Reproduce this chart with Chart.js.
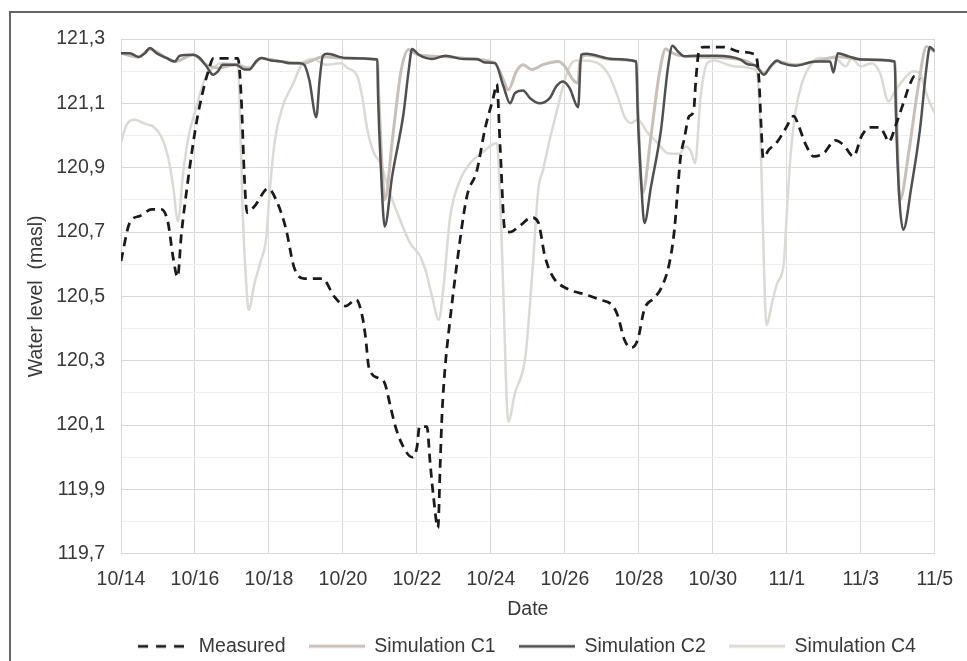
<!DOCTYPE html>
<html>
<head>
<meta charset="utf-8">
<title>Water level</title>
<script src="https://cdn.jsdelivr.net/npm/chart.js@4.4.1/dist/chart.umd.min.js"></script>
<style>
  html, body { margin: 0; padding: 0; background: #fff; overflow: hidden; }
  #frame { position: absolute; left: 9px; top: 11px; width: 1000px; height: 700px;
           border-left: 2px solid #666; border-top: 2px solid #666; }
  #chart { position: absolute; left: 0; top: 0; }
</style>
</head>
<body>
<div id="frame"></div>
<canvas id="chart" width="967" height="666"></canvas>
<script>
// x values are days counted from 10/14
const dateLabels = ['10/14', '10/16', '10/18', '10/20', '10/22', '10/24', '10/26', '10/28', '10/30', '11/1', '11/3', '11/5'];
const seriesNames = ['Measured', 'Simulation C1', 'Simulation C2', 'Simulation C4'];

const measuredDays = [0, 0.24, 0.51, 0.83, 1.09, 1.27, 1.41, 1.53, 1.63, 1.81, 2.04, 2.22, 2.40, 2.49, 3.16, 3.25, 3.34, 3.41, 3.61, 3.98,
  4.23, 4.46, 4.68, 4.95, 5.45, 5.76, 6.07, 6.36, 6.52, 6.61, 6.70, 6.97, 7.13, 7.29, 7.42, 7.60, 7.87, 8.00, 8.07, 8.27,
  8.36, 8.45, 8.57, 8.63, 8.68, 8.77, 8.86, 9.08, 9.35, 9.62, 9.84, 10.07, 10.16, 10.25, 10.38, 10.52, 10.79, 11.10, 11.28, 11.46,
  11.68, 12.04, 12.58, 12.94, 13.30, 13.43, 13.61, 13.79, 13.97, 14.15, 14.42, 14.60, 14.82, 14.96, 15.05, 15.13, 15.22, 15.36, 15.48, 15.54,
  15.63, 15.76, 16.30, 16.75, 17.16, 17.25, 17.31, 17.36, 17.51, 17.74, 17.96, 18.19, 18.32, 18.50, 18.73, 19.00, 19.31, 19.54, 19.80, 20.03,
  20.25, 20.52, 20.66, 20.75, 20.97, 21.15, 21.33, 21.46, 21.60];
const measuredLevel = [120.61, 120.73, 120.75, 120.77, 120.77, 120.73, 120.62, 120.56, 120.69, 120.86, 121.04, 121.14, 121.215, 121.24, 121.24, 121.12, 120.86, 120.76, 120.78, 120.835,
  120.79, 120.71, 120.59, 120.555, 120.555, 120.50, 120.47, 120.49, 120.44, 120.375, 120.28, 120.245, 120.23, 120.155, 120.095, 120.04, 120.00, 120.03, 120.095, 120.095,
  119.98, 119.875, 119.78, 119.98, 120.135, 120.29, 120.39, 120.60, 120.81, 120.89, 121.02, 121.12, 121.16, 120.965, 120.705, 120.70, 120.72, 120.745, 120.73, 120.625,
  120.56, 120.525, 120.505, 120.49, 120.47, 120.44, 120.365, 120.34, 120.365, 120.46, 120.495, 120.525, 120.60, 120.705, 120.83, 120.935, 120.985, 121.06, 121.075, 121.17,
  121.265, 121.275, 121.275, 121.26, 121.25, 121.17, 121.02, 120.93, 120.955, 120.98, 121.02, 121.06, 121.03, 120.975, 120.935, 120.945, 120.985, 120.97, 120.935, 121.00,
  121.025, 121.025, 121.00, 120.98, 121.04, 121.10, 121.16, 121.185, 121.175];

const c1Days = [0, 0.47, 0.78, 1.23, 1.45, 1.95, 2.31, 2.62, 3.11, 3.47, 3.79, 4.33, 4.95, 5.46, 6.07, 6.93, 6.97, 7.05, 7.13, 7.35,
  7.57, 7.78, 7.87, 8.05, 8.77, 9.62, 10.11, 10.34, 10.47, 10.69, 10.87, 11.10, 11.41, 11.82, 12.0, 12.22, 12.36, 12.40, 12.58, 13.30,
  13.93, 13.97, 14.10, 14.33, 14.55, 14.73, 14.82, 15.05, 15.50, 16.75, 17.16, 17.38, 17.74, 18.23, 18.77, 19.38, 20.03, 20.92, 20.96, 21.06,
  21.30, 21.55, 21.78, 21.87, 22.0];
const c1Level = [121.256, 121.244, 121.268, 121.241, 121.23, 121.25, 121.22, 121.21, 121.22, 121.21, 121.24, 121.23, 121.225, 121.245, 121.24, 121.236, 121.12, 120.92, 120.80, 121.0,
  121.2, 121.267, 121.26, 121.25, 121.245, 121.236, 121.225, 121.173, 121.142, 121.2, 121.22, 121.205, 121.22, 121.23, 121.215, 121.173, 121.163, 121.225, 121.25, 121.236,
  121.23, 121.10, 120.82, 121.0, 121.19, 121.27, 121.262, 121.25, 121.245, 121.236, 121.217, 121.195, 121.23, 121.22, 121.23, 121.245, 121.236, 121.23, 121.10, 120.80,
  120.95, 121.15, 121.277, 121.27, 121.26];

const c2Days = [0, 0.24, 0.47, 0.65, 0.78, 0.96, 1.23, 1.45, 1.59, 1.95, 2.13, 2.31, 2.49, 2.62, 2.75, 3.11, 3.34, 3.47, 3.65, 3.79,
  4.06, 4.33, 4.55, 4.82, 4.95, 5.09, 5.28, 5.37, 5.46, 5.58, 6.07, 6.93, 6.95, 7.02, 7.13, 7.33, 7.64, 7.78, 7.87, 8.05,
  8.41, 8.77, 9.26, 9.62, 9.84, 10.11, 10.34, 10.52, 10.65, 10.87, 11.06, 11.32, 11.59, 11.77, 11.95, 12.13, 12.36, 12.44, 12.58, 13.30,
  13.93, 13.97, 14.06, 14.15, 14.33, 14.60, 14.78, 14.91, 15.05, 15.23, 15.50, 16.12, 16.75, 16.93, 17.16, 17.38, 17.56, 17.74, 17.87, 18.23,
  18.77, 19.17, 19.26, 19.38, 19.67, 20.03, 20.92, 20.95, 21.04, 21.15, 21.37, 21.60, 21.78, 21.87, 22.0];
const c2Level = [121.256, 121.256, 121.244, 121.256, 121.272, 121.256, 121.241, 121.23, 121.248, 121.251, 121.241, 121.215, 121.189, 121.199, 121.22, 121.22, 121.205, 121.205, 121.23, 121.241,
  121.233, 121.23, 121.225, 121.225, 121.22, 121.173, 121.057, 121.173, 121.248, 121.254, 121.241, 121.236, 121.121, 120.914, 120.717, 120.873, 121.07, 121.205, 121.269, 121.251,
  121.238, 121.248, 121.238, 121.238, 121.227, 121.225, 121.153, 121.10, 121.132, 121.14, 121.116, 121.10, 121.116, 121.153, 121.168, 121.147, 121.088, 121.251, 121.254, 121.238,
  121.23, 121.07, 120.862, 120.728, 120.842, 121.018, 121.205, 121.279, 121.262, 121.246, 121.248, 121.248, 121.236, 121.222, 121.217, 121.189, 121.215, 121.233, 121.225, 121.217,
  121.23, 121.23, 121.196, 121.256, 121.246, 121.236, 121.23, 121.07, 120.81, 120.707, 120.842, 121.018, 121.215, 121.275, 121.262];

const c4Days = [0, 0.15, 0.38, 0.60, 0.74, 0.87, 1.09, 1.27, 1.41, 1.54, 1.68, 1.81, 2.04, 2.26, 2.53, 2.71, 3.16, 3.23, 3.29, 3.38,
  3.45, 3.61, 3.79, 3.92, 4.01, 4.15, 4.37, 4.64, 4.91, 5.18, 5.54, 5.94, 6.12, 6.39, 6.52, 6.66, 6.84, 7.02, 7.24, 7.51,
  7.82, 8.09, 8.23, 8.41, 8.59, 8.72, 8.90, 9.17, 9.44, 9.80, 10.16, 10.25, 10.34, 10.47, 10.65, 10.92, 11.01, 11.14, 11.28, 11.41,
  11.59, 11.77, 11.95, 12.13, 12.31, 12.76, 13.16, 13.43, 13.61, 13.79, 13.97, 14.24, 14.51, 14.78, 15.09, 15.27, 15.41, 15.52, 15.67, 15.85,
  16.04, 16.57, 17.16, 17.25, 17.31, 17.38, 17.45, 17.60, 17.74, 17.92, 18.0, 18.10, 18.23, 18.41, 18.68, 18.86, 19.3, 19.6, 19.75, 20.0,
  20.3, 20.52, 20.75, 20.92, 21.15, 21.42, 21.6, 21.73, 21.87, 22.0];
const c4Level = [120.977, 121.033, 121.049, 121.039, 121.033, 121.028, 120.997, 120.935, 120.842, 120.733, 120.883, 120.987, 121.09, 121.173, 121.215, 121.225, 121.22, 121.018, 120.759, 120.551,
  120.458, 120.541, 120.614, 120.676, 120.81, 120.977, 121.09, 121.158, 121.225, 121.238, 121.22, 121.225, 121.21, 121.184, 121.121, 121.018, 120.945, 120.914, 120.831, 120.748,
  120.665, 120.624, 120.582, 120.50, 120.427, 120.531, 120.748, 120.862, 120.914, 120.95, 120.977, 120.81, 120.50, 120.11, 120.199, 120.302, 120.406, 120.603, 120.831, 120.893,
  120.987, 121.07, 121.153, 121.215, 121.233, 121.23, 121.194, 121.121, 121.059, 121.039, 121.049, 121.008, 120.977, 120.945, 120.943, 120.966, 120.95, 120.914, 121.121, 121.225,
  121.233, 121.215, 121.205, 121.121, 120.914, 120.603, 120.411, 120.479, 120.541, 120.603, 120.759, 120.935, 121.07, 121.163, 121.225, 121.241, 121.24, 121.215, 121.24, 121.215,
  121.225, 121.194, 121.106, 121.137, 121.173, 121.20, 121.194, 121.147, 121.10, 121.07];

const yMin = 119.7;
const yMax = 121.3;

const pts = (days, level) => days.map((d, i) => ({ x: d, y: level[i] }));

const font = { family: '"Liberation Sans", Arial, sans-serif', size: 19.5 };
const textColor = '#383838';
const isMajor = v => Math.round(v * 10) % 2 === 1;

// small picture of the line, used as the legend symbol
function legendLine(color, width, dash, length) {
  const c = document.createElement('canvas');
  c.width = length;
  c.height = 6;
  const g = c.getContext('2d');
  g.strokeStyle = color;
  g.lineWidth = width;
  g.setLineDash(dash);
  g.beginPath();
  g.moveTo(0, 3);
  g.lineTo(length, 3);
  g.stroke();
  return c;
}

// Excel centres the legend under the plot area rather than the whole canvas
const legendShift = {
  id: 'legendShift',
  beforeDraw(chart) {
    chart.legend.left = 82;
    chart.legend.right = chart.width;
  }
};

window.onload = () => {
  const ctx = document.getElementById('chart').getContext('2d');
  const line = { pointRadius: 0, fill: false, cubicInterpolationMode: 'monotone', borderJoinStyle: 'round' };
  new Chart(ctx, {
    type: 'line',
    data: {
      datasets: [
        { ...line, label: seriesNames[0], data: pts(measuredDays, measuredLevel), borderColor: '#1a1a1a', borderWidth: 2.75, borderDash: [9, 6], order: 0,
          pointStyle: legendLine('#1a1a1a', 2.75, [10, 8], 46) },
        { ...line, label: seriesNames[1], data: pts(c1Days, c1Level), borderColor: '#c8c0b8', borderWidth: 3, order: 2,
          pointStyle: legendLine('#c8c0b8', 3, [], 56) },
        { ...line, label: seriesNames[2], data: pts(c2Days, c2Level), borderColor: '#505050', borderWidth: 2.5, order: 1,
          pointStyle: legendLine('#505050', 2.75, [], 56) },
        { ...line, label: seriesNames[3], data: pts(c4Days, c4Level), borderColor: '#dcdad5', borderWidth: 2.5, order: 3,
          pointStyle: legendLine('#dcdad5', 3, [], 56) }
      ]
    },
    options: {
      responsive: false,
      animation: false,
      events: [],
      layout: { padding: { top: 39, right: 29, left: 0, bottom: 0 } },
      plugins: {
        tooltip: { enabled: false },
        legend: {
          position: 'bottom',
          labels: {
            font, color: textColor, padding: 23,
            usePointStyle: true, pointStyleWidth: 56,
            sort: (a, b) => a.datasetIndex - b.datasetIndex
          }
        }
      },
      scales: {
        x: {
          type: 'linear', min: 0, max: 22,
          afterBuildTicks: s => { s.ticks = dateLabels.map((_, i) => ({ value: i * 2 })); },
          afterFit: s => { s.height = 59.8; },
          ticks: { callback: v => dateLabels[Math.round(v / 2)], font, color: textColor, padding: 14, maxRotation: 0, autoSkip: false },
          grid: { color: '#d9d9d9', drawTicks: false },
          border: { color: '#d9d9d9' },
          title: { display: true, text: 'Date', font, color: textColor, padding: { top: 0, bottom: -7.4 } }
        },
        y: {
          min: yMin, max: yMax,
          afterBuildTicks: s => {
            const n = Math.round((yMax - yMin) * 10);
            s.ticks = Array.from({ length: n + 1 }, (_, i) => ({ value: Math.round(yMin * 10 + i) / 10 }));
          },
          afterFit: s => { s.width = 121; },
          ticks: { callback: v => (isMajor(v) ? v.toFixed(1).replace('.', ',') : ''), font, color: textColor, padding: 16, autoSkip: false },
          grid: { color: c => (c.tick && isMajor(c.tick.value) ? '#d9d9d9' : '#efefef'), drawTicks: false },
          border: { color: '#d9d9d9' },
          title: { display: true, text: 'Water level  (masl)', font, color: textColor, padding: { top: 25.3, bottom: 0 } }
        }
      }
    },
    plugins: [legendShift]
  });
};
</script>
</body>
</html>
